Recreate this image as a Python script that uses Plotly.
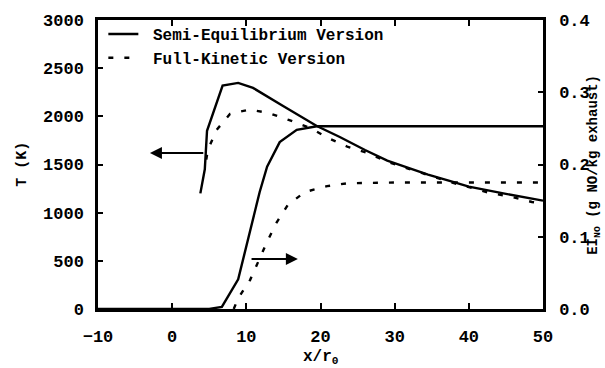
import plotly.graph_objects as go

# Temperature, Semi-Equilibrium Version (solid)
x_T_semi = [3.8, 4.4, 4.7, 6.8, 8.9, 10.9, 14.9, 19.5, 22.6, 26.0, 29.0, 34.5, 37.4, 40.0, 45.0, 50.0]
T_semi = [1200, 1450, 1850, 2320, 2347, 2295, 2110, 1900, 1786, 1650, 1540, 1395, 1329, 1270, 1195, 1125]

# Temperature, Full-Kinetic Version (dashed)
x_T_full = [4.6, 4.8, 6.0, 7.8, 10.4, 13.0, 15.7, 18.6, 21.0, 23.7, 26.3, 29.1, 31.8, 34.5, 37.4, 40.0, 42.8, 45.8, 48.5, 50.0]
T_full = [1550, 1650, 1860, 2025, 2070, 2035, 1963, 1880, 1776, 1682, 1620, 1527, 1458, 1391, 1319, 1265, 1205, 1163, 1111, 1095]

# EI_NO, Semi-Equilibrium Version (solid)
x_EI_semi = [-10, 5.0, 6.7, 8.9, 11.8, 12.8, 14.5, 16.8, 19.5, 50.0]
EI_semi = [0.0, 0.0, 0.003, 0.041, 0.162, 0.197, 0.231, 0.248, 0.253, 0.253]

# EI_NO, Full-Kinetic Version (dashed)
x_EI_full = [8.3, 8.9, 10.5, 12.8, 14.1, 15.6, 17.9, 20.9, 23.6, 30.0, 50.0]
EI_full = [0.0, 0.015, 0.040, 0.093, 0.120, 0.144, 0.162, 0.170, 0.174, 0.175, 0.175]

x_ticks = [-10, 0, 10, 20, 30, 40, 50]
T_ticks = [0, 500, 1000, 1500, 2000, 2500, 3000]
EI_ticks = [0.0, 0.1, 0.2, 0.3, 0.4]

FONT = "Liberation Mono"
DASH = "5px,11px"
LW = 2.4

fig = go.Figure()
fig.add_trace(go.Scatter(x=x_T_semi, y=T_semi, mode="lines", name=" <b>Semi-Equilibrium Version</b>",
                         line=dict(color="black", width=LW), yaxis="y"))
fig.add_trace(go.Scatter(x=x_T_full, y=T_full, mode="lines", name=" <b>Full-Kinetic Version</b>",
                         line=dict(color="black", width=LW, dash=DASH), yaxis="y"))
fig.add_trace(go.Scatter(x=x_EI_semi, y=EI_semi, mode="lines", showlegend=False,
                         line=dict(color="black", width=LW), yaxis="y2"))
fig.add_trace(go.Scatter(x=x_EI_full, y=EI_full, mode="lines", showlegend=False,
                         line=dict(color="black", width=LW, dash=DASH), yaxis="y2"))

tickfont = dict(family=FONT, size=17, color="black", weight="bold")

fig.update_layout(
    width=605, height=368,
    margin=dict(l=98, r=62, t=20, b=59),
    paper_bgcolor="white", plot_bgcolor="white",
    font=dict(family=FONT, color="black"),
    showlegend=True,
    legend=dict(x=0.012, y=1.01, xanchor="left", yanchor="top", bgcolor="rgba(0,0,0,0)",
                font=dict(family=FONT, size=16, color="black"), tracegroupgap=0,
                itemwidth=30),
    xaxis=dict(range=[-10, 50], tickvals=x_ticks, ticktext=[("\u2212" + str(-v)) if v < 0 else str(v) for v in x_ticks],
               showgrid=False, zeroline=False, showline=True, linecolor="black", linewidth=2.5,
               mirror="ticks", ticks="inside", ticklen=6, tickwidth=2, tickcolor="black",
               tickfont=tickfont, ticklabelstandoff=10),
    yaxis=dict(range=[0, 3000], tickvals=T_ticks, showgrid=False, zeroline=False,
               showline=True, linecolor="black", linewidth=2.5, mirror=True,
               ticks="inside", ticklen=5, tickwidth=2, tickcolor="black",
               tickfont=tickfont, ticklabelstandoff=8),
    yaxis2=dict(range=[0, 0.4], tickvals=EI_ticks, tickformat=".1f", overlaying="y", side="right",
                showgrid=False, zeroline=False, showline=True, linecolor="black", linewidth=2.5,
                ticks="inside", ticklen=5, tickwidth=2, tickcolor="black",
                tickfont=tickfont, ticklabelstandoff=10),
)

annos = [
    dict(text="<b>x/r<sub>0</sub></b>", xref="paper", yref="paper", x=0.5, y=-0.168,
         xanchor="center", yanchor="middle", showarrow=False, font=dict(family=FONT, size=16)),
    dict(text="<b>T (K)</b>", xref="paper", yref="paper", x=-0.17, y=0.5, textangle=-90,
         xanchor="center", yanchor="middle", showarrow=False, font=dict(family=FONT, size=15)),
    dict(text="<b>EI<sub>NO</sub> (g NO/kg exhaust)</b>", xref="paper", yref="paper", x=1.113, y=0.5,
         textangle=-90, xanchor="center", yanchor="middle", showarrow=False,
         font=dict(family=FONT, size=14)),
    # arrows pointing to the axes
    dict(x=-3.0, y=1620, ax=4.4, ay=1620, xref="x", yref="y", axref="x", ayref="y",
         showarrow=True, arrowhead=2, arrowsize=1.2, arrowwidth=2, arrowcolor="black", text=""),
    dict(x=16.95, y=519, ax=10.5, ay=519, xref="x", yref="y", axref="x", ayref="y",
         showarrow=True, arrowhead=2, arrowsize=1.2, arrowwidth=2, arrowcolor="black", text=""),
]
fig.update_layout(annotations=annos)

fig.write_html("out.html")
